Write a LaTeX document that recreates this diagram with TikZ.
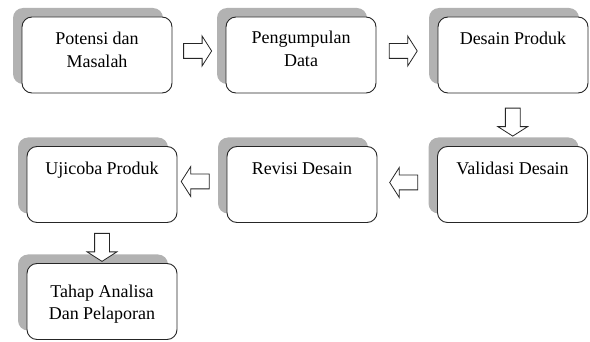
\documentclass[tikz,border=0pt]{standalone}
\usepackage{fontspec}
\setmainfont{LiberationSerif}[Extension=.ttf, UprightFont=*-Regular, BoldFont=*-Bold]
\usetikzlibrary{calc,positioning,shadows,shapes.arrows}

\newcommand{\boxtext}[2][28pt]{\parbox[c][76pt][t]{150pt}{\centering\rule{0pt}{#1}#2}}

\begin{document}
\begin{tikzpicture}[x=1pt, y=-1pt,
  stepbox/.style={draw=black!85, line width=0.9pt, rounded corners=10pt, fill=white,
    inner sep=0pt, font=\fontsize{18}{22.5}\selectfont,
    drop shadow={shadow xshift=-9pt, shadow yshift=9pt, fill=black!30, opacity=1}},
  blockarrow/.style={single arrow, draw=black!85, line width=0.8pt, fill=white,
    inner sep=7pt, minimum height=28pt, single arrow head extend=7.5pt,
    single arrow tip angle=115}]
  \useasboundingbox (0,0) rectangle (590,342);

  % Top row
  \node[stepbox] (potensi) at (97,55) {\boxtext{Potensi dan\\Masalah}};
  \node[stepbox] (pengumpulan) at (301,55) {\boxtext[27pt]{Pengumpulan\\Data}};
  \node[stepbox] (desain) at (513,55) {\boxtext{Desain Produk}};

  % Middle row
  \node[stepbox] (validasi) at (512.5,184.5) {\boxtext{Validasi Desain}};
  \node[stepbox] (revisi) at (302,184.5) {\boxtext{Revisi Desain}};
  \node[stepbox] (ujicoba) at (102,184.5) {\boxtext{Ujicoba Produk}};

  % Bottom
  \node[stepbox] (tahap) at (102,301.5) {\boxtext[34pt]{Tahap Analisa\\Dan Pelaporan}};

  % Block arrows
  \node[blockarrow] (a1) at ($(potensi.east)!0.43!(pengumpulan.west)+(0,-4)$) {};
  \node[blockarrow] (a2) at ($(pengumpulan.east)!0.4!(desain.west)+(0,-4)$) {};
  \node[blockarrow, rotate=-90] (a3) at ($(desain.south)!0.5!(validasi.north)$) {};
  \node[blockarrow, rotate=180] (a4) at ($(validasi.west)!0.52!(revisi.east)+(0,-2)$) {};
  \node[blockarrow, rotate=180] (a5) at ($(revisi.west)!0.59!(ujicoba.east)+(0,-3)$) {};
  \node[blockarrow, rotate=-90] (a6) at ($(ujicoba.south)!0.55!(tahap.north)$) {};
\end{tikzpicture}
\end{document}
